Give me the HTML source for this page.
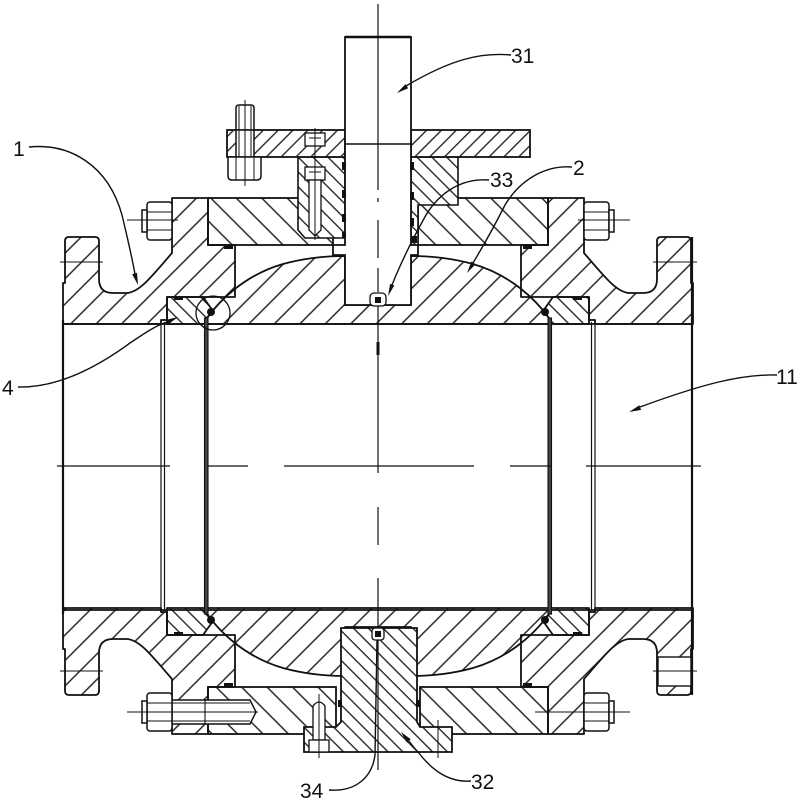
<!DOCTYPE html>
<html><head><meta charset="utf-8">
<style>
html,body{margin:0;padding:0;background:#fff;}
svg{display:block;}
text{font-family:"Liberation Sans",sans-serif;font-size:21px;fill:#111;}
</style></head><body>
<svg width="800" height="800" viewBox="0 0 800 800" xmlns="http://www.w3.org/2000/svg">
<defs>
<pattern id="hF" patternUnits="userSpaceOnUse" width="18" height="18" patternTransform="rotate(45)"><rect x="8.3" y="0" width="1.4" height="18" fill="#1a1a1a"/></pattern>
<pattern id="hB" patternUnits="userSpaceOnUse" width="18" height="18" patternTransform="rotate(-45)"><rect x="8.3" y="0" width="1.4" height="18" fill="#1a1a1a"/></pattern>
<pattern id="hf" patternUnits="userSpaceOnUse" width="10.5" height="10.5" patternTransform="rotate(45)"><rect x="4.6" y="0" width="1.3" height="10.5" fill="#1a1a1a"/></pattern>
<pattern id="hb" patternUnits="userSpaceOnUse" width="10.5" height="10.5" patternTransform="rotate(-45)"><rect x="4.6" y="0" width="1.3" height="10.5" fill="#1a1a1a"/></pattern>

<path id="body" d="M63,324 L63,283 L65,283 L65,241 Q65,237 69,237 L95,237 Q99,237 99,241 L99,279 Q99,293 113,293 L127,293 C140,292 152,276 172,253 L172,198 L208,198 L208,245 L235,245 L235,297 L167,297 L167,320 L161,320 L161,324 Z"/>
<path id="ball" d="M207,324 L207,318 C220,300 245,275 283,264 C305,258 325,256 345,256 L345,305 L411,305 L411,256 C431,256 451,258 473,264 C511,275 536,300 549,318 L549,324 Z"/>
<path id="seat" d="M167,297 L203,297 L213,311 L207,318 L207,324 L167,324 Z"/>

<clipPath id="cBody">
<use href="#body"/>
<use href="#body" transform="matrix(-1 0 0 1 756 0)"/>
<use href="#body" transform="matrix(1 0 0 -1 0 932)"/>
<use href="#body" transform="matrix(-1 0 0 -1 756 932)"/>
</clipPath>
<clipPath id="cBall">
<use href="#ball"/>
<use href="#ball" transform="matrix(1 0 0 -1 0 932)"/>
</clipPath>
<clipPath id="cSeat">
<use href="#seat"/>
<use href="#seat" transform="matrix(-1 0 0 1 756 0)"/>
<use href="#seat" transform="matrix(1 0 0 -1 0 932)"/>
<use href="#seat" transform="matrix(-1 0 0 -1 756 932)"/>
</clipPath>
</defs>

<rect width="800" height="800" fill="#fff"/>

<!-- hatched body, ball, seats -->
<rect width="800" height="800" fill="url(#hF)" clip-path="url(#cBody)"/>
<rect width="800" height="800" fill="url(#hF)" clip-path="url(#cBall)"/>
<g clip-path="url(#cSeat)"><rect width="800" height="800" fill="#fff"/><rect width="800" height="800" fill="url(#hb)"/></g>

<g fill="none" stroke="#111" stroke-width="1.8" stroke-linejoin="round">
<use href="#body"/>
<use href="#body" transform="matrix(-1 0 0 1 756 0)"/>
<use href="#body" transform="matrix(1 0 0 -1 0 932)"/>
<use href="#body" transform="matrix(-1 0 0 -1 756 932)"/>
<use href="#ball"/>
<use href="#ball" transform="matrix(1 0 0 -1 0 932)"/>
<use href="#seat"/>
<use href="#seat" transform="matrix(-1 0 0 1 756 0)"/>
<use href="#seat" transform="matrix(1 0 0 -1 0 932)"/>
<use href="#seat" transform="matrix(-1 0 0 -1 756 932)"/>
</g>

<!-- bottom right flange bolt hole -->
<rect x="658" y="657" width="33" height="29" fill="#fff" stroke="#111" stroke-width="1.4"/>

<g stroke="#111" stroke-width="1.8">
<!-- top cover -->
<rect x="208" y="198" width="125" height="47" fill="url(#hB)"/>
<rect x="418" y="198" width="130" height="47" fill="url(#hB)"/>
<!-- bottom cover -->
<rect x="208" y="687" width="128" height="47" fill="url(#hB)"/>
<rect x="420" y="687" width="128" height="47" fill="url(#hB)"/>
</g>

<!-- glands -->
<path d="M298,157 L345,157 L345,238 L305,238 L298,230 Z" fill="#fff"/>
<path d="M298,157 L345,157 L345,238 L305,238 L298,230 Z" fill="url(#hb)" stroke="#111" stroke-width="1.6"/>
<path d="M411,157 L458,157 L458,205 L418,205 L418,245 L411,245 Z" fill="#fff"/>
<path d="M411,157 L458,157 L458,205 L418,205 L418,245 L411,245 Z" fill="url(#hb)" stroke="#111" stroke-width="1.6"/>

<!-- top plate -->
<rect x="227" y="130" width="118" height="27" fill="#fff" stroke="#111" stroke-width="1.8"/>
<rect x="227" y="130" width="118" height="27" fill="url(#hf)"/>
<rect x="411" y="130" width="119" height="27" fill="#fff" stroke="#111" stroke-width="1.8"/>
<rect x="411" y="130" width="119" height="27" fill="url(#hf)"/>

<!-- stem -->
<path d="M345,37 L411,37 L411,245 L418,245 L418,255 L411,255 L411,305 L345,305 L345,255 L333,255 L333,245 L345,245 Z" fill="#fff" stroke="#111" stroke-width="1.8"/>
<line x1="345" y1="37" x2="411" y2="37" stroke="#111" stroke-width="2.6"/>
<line x1="345" y1="144" x2="411" y2="144" stroke="#111" stroke-width="1.4"/>

<!-- gland screws -->
<g fill="#fff" stroke="#111" stroke-width="1.3">
<rect x="305" y="133" width="20" height="13"/>
<rect x="305" y="167" width="20" height="13"/>
<path d="M309,180 L321,180 L321,230 L315,236 L309,230 Z"/>
</g>
<g stroke="#111" stroke-width="1">
<line x1="315" y1="128" x2="315" y2="240"/>
<line x1="309" y1="138" x2="321" y2="138"/>
<line x1="309" y1="172" x2="321" y2="172"/>
</g>

<!-- trunnion 32 -->
<path d="M341,628 L417,628 L417,722 L420,727 L452,727 L452,752 L304,752 L304,727 L336,727 L341,722 Z" fill="#fff"/>
<path d="M341,628 L417,628 L417,722 L420,727 L452,727 L452,752 L304,752 L304,727 L336,727 L341,722 Z" fill="url(#hb)" stroke="#111" stroke-width="1.8"/>
<g fill="#fff" stroke="#111" stroke-width="1.3">
<path d="M313,740 L313,706 Q319,698 325,706 L325,740 Z"/>
<rect x="309" y="740" width="20" height="12"/>
</g>
<line x1="319" y1="694" x2="319" y2="758" stroke="#111" stroke-width="1"/>
<line x1="438" y1="720" x2="438" y2="758" stroke="#111" stroke-width="1"/>

<!-- top plate bolt -->
<g fill="#fff" stroke="#111" stroke-width="1.5">
<path d="M236,130 L236,108 Q236,105 239,105 L251,105 Q254,105 254,108 L254,130 Z"/>
<rect x="236" y="130" width="18" height="27"/>
<path d="M228,157 L261,157 L261,176 Q261,180 257,180 L232,180 Q228,180 228,176 Z"/>
</g>
<g stroke="#111" stroke-width="1">
<line x1="239" y1="106" x2="239" y2="157"/><line x1="251" y1="106" x2="251" y2="157"/>
<line x1="236" y1="157" x2="236" y2="180"/><line x1="254" y1="157" x2="254" y2="180"/>
<line x1="245" y1="100" x2="245" y2="186"/>
</g>

<!-- horizontal nuts -->
<g fill="#fff" stroke="#111" stroke-width="1.5">
<rect x="147" y="202" width="25" height="38" rx="3"/><rect x="142" y="210" width="5" height="22"/>
<rect x="584" y="202" width="25" height="38" rx="3"/><rect x="609" y="210" width="5" height="22"/>
<path d="M172,700 L250,700 L256,712 L250,724 L172,724 Z"/>
<rect x="147" y="693" width="25" height="38" rx="3"/><rect x="142" y="701" width="5" height="22"/>
<rect x="584" y="693" width="25" height="38" rx="3"/><rect x="609" y="701" width="5" height="22"/>
</g>
<g stroke="#111" stroke-width="1.1">
<line x1="147" y1="212" x2="172" y2="212"/><line x1="147" y1="230" x2="172" y2="230"/>
<line x1="584" y1="212" x2="609" y2="212"/><line x1="584" y1="230" x2="609" y2="230"/>
<line x1="147" y1="703" x2="172" y2="703"/><line x1="147" y1="721" x2="172" y2="721"/>
<line x1="584" y1="703" x2="609" y2="703"/><line x1="584" y1="721" x2="609" y2="721"/>
<line x1="205" y1="700" x2="205" y2="724"/>
<line x1="172" y1="703" x2="250" y2="703"/><line x1="172" y1="721" x2="250" y2="721"/>
<line x1="127" y1="220" x2="178" y2="220"/>
<line x1="578" y1="220" x2="630" y2="220"/>
<line x1="127" y1="712" x2="258" y2="712"/>
<line x1="535" y1="712" x2="630" y2="712"/>
<line x1="60" y1="262" x2="103" y2="262"/>
<line x1="653" y1="262" x2="697" y2="262"/>
<line x1="60" y1="671" x2="103" y2="671"/>
<line x1="653" y1="671" x2="697" y2="671"/>
</g>

<!-- bore lines -->
<g stroke="#111" stroke-width="1.8" fill="none">
<line x1="63" y1="324" x2="692" y2="324"/>
<line x1="63" y1="610" x2="692" y2="610"/>
<line x1="63" y1="320" x2="63" y2="614" stroke-width="2.2"/>
<line x1="692" y1="237" x2="692" y2="695" stroke-width="2.2"/>
</g>
<g stroke="#111" stroke-width="1.2" fill="none">
<path d="M167,320 L161,320 L161,612 L167,612"/>
<line x1="164.5" y1="322" x2="164.5" y2="610"/>
<path d="M589,320 L595,320 L595,612 L589,612"/>
<line x1="591.5" y1="322" x2="591.5" y2="610"/>
</g>
<rect x="204.5" y="318" width="3.5" height="296" fill="#444" stroke="#111" stroke-width="1.1"/>
<rect x="548" y="318" width="3.5" height="296" fill="#444" stroke="#111" stroke-width="1.1"/>

<!-- seals -->
<g fill="#111">
<rect x="224" y="245" width="9" height="4"/><rect x="523" y="245" width="9" height="4"/>
<rect x="224" y="683" width="9" height="4"/><rect x="523" y="683" width="9" height="4"/>
<rect x="174" y="297" width="9" height="3"/><rect x="573" y="297" width="9" height="3"/>
<rect x="174" y="632" width="9" height="3"/><rect x="573" y="632" width="9" height="3"/>
<circle cx="211" cy="312" r="4"/><circle cx="545" cy="312" r="4"/>
<circle cx="211" cy="620" r="4"/><circle cx="545" cy="620" r="4"/>
<rect x="342" y="162" width="4" height="8"/><rect x="342" y="190" width="4" height="8"/><rect x="342" y="214" width="4" height="8"/><rect x="342" y="232" width="4" height="6"/>
<rect x="410" y="162" width="4" height="8"/><rect x="410" y="192" width="4" height="8"/><rect x="410" y="218" width="4" height="8"/><rect x="412" y="236" width="5" height="7"/>
<rect x="338" y="700" width="4" height="7"/><rect x="416" y="700" width="4" height="7"/>
</g>
<rect x="370" y="293" width="16" height="13" rx="4" fill="#fff" stroke="#111" stroke-width="1.3"/>
<rect x="375" y="297" width="6" height="6" fill="#111"/>
<rect x="372" y="628" width="12" height="12" rx="3" fill="#fff" stroke="#111" stroke-width="1.3"/>
<rect x="375" y="631" width="6" height="6" fill="#111"/>

<circle cx="213" cy="313" r="17" fill="none" stroke="#111" stroke-width="1.3"/>

<!-- centerlines -->
<g stroke="#111" stroke-width="1.2">
<line x1="57" y1="466" x2="170" y2="466"/>
<line x1="207" y1="466" x2="248" y2="466"/>
<line x1="284" y1="466" x2="474" y2="466"/>
<line x1="510" y1="466" x2="551" y2="466"/>
<line x1="586" y1="466" x2="701" y2="466"/>
<line x1="378" y1="4" x2="378" y2="190"/>
<line x1="378" y1="198" x2="378" y2="202"/>
<line x1="378" y1="220" x2="378" y2="258"/>
<line x1="378" y1="268" x2="378" y2="292"/>
<line x1="378" y1="306" x2="378" y2="473"/>
<line x1="378" y1="507" x2="378" y2="545"/>
<line x1="378" y1="578" x2="378" y2="628"/>
<line x1="378" y1="640" x2="378" y2="770"/>
</g>
<line x1="378" y1="342" x2="378" y2="355" stroke="#111" stroke-width="3"/>

<!-- leaders -->
<g fill="none" stroke="#111" stroke-width="1.4">
<path d="M29,147 C70,143 108,165 122,215 C128,240 132,258 135,274"/>
<path d="M511,55 C480,52 450,60 406,86"/>
<path d="M489,180 C462,178 440,192 426,215 C412,240 400,265 392,285"/>
<path d="M572,167 C545,165 520,180 505,205 C495,225 482,248 473,263"/>
<path d="M18,387 C60,388 100,365 130,343 C145,333 155,326 167,322"/>
<path d="M777,375 C740,374 700,385 640,407"/>
<path d="M471,781 C445,783 428,765 418,752 C414,748 412,745 409,741"/>
<path d="M329,790 C355,792 372,778 375,755 L377,640"/>
</g>
<g fill="#111">
<polygon points="138,285 137,272.8 132.2,274.2"/>
<polygon points="397,93 408.2,88.3 405.4,84.2"/>
<polygon points="388,296 394.3,285.5 390.1,283.9"/>
<polygon points="467,273 475.6,264.2 471.4,261.5"/>
<polygon points="178,317 168.3,324.4 166.1,319.9"/>
<polygon points="629,412 641.1,409.9 639.3,405.3"/>
<polygon points="401,732 410.8,739.3 407,742.6"/>
</g>

<!-- labels -->
<text x="13" y="156">1</text>
<text x="511" y="63">31</text>
<text x="490" y="187">33</text>
<text x="573" y="175">2</text>
<text x="2" y="395">4</text>
<text x="776" y="384">11</text>
<text x="471" y="789">32</text>
<text x="300" y="798">34</text>
</svg>
</body></html>
